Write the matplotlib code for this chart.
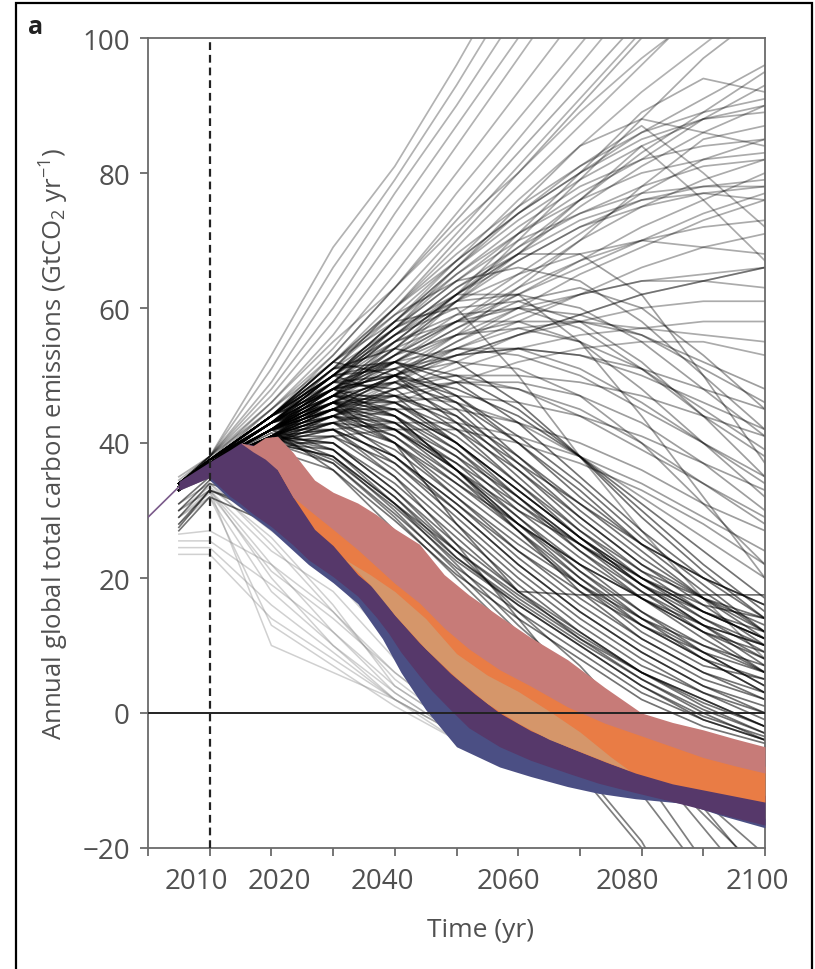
import matplotlib
matplotlib.use("Agg")
import matplotlib.pyplot as plt
import matplotlib.transforms as mtransforms
from matplotlib.patches import Rectangle
import numpy as np

plt.rcParams['font.family'] = ['Open Sans', 'DejaVu Sans']
plt.rcParams['mathtext.fontset'] = 'custom'
plt.rcParams['mathtext.rm'] = 'Open Sans'
plt.rcParams['mathtext.it'] = 'Open Sans:italic'
plt.rcParams['mathtext.bf'] = 'Open Sans:bold'

# ---------------- data ----------------
YEARS = [2005, 2010, 2020, 2030, 2040, 2050, 2060, 2070, 2080, 2090, 2100]

# steep rising scenarios (leave the top of the plot)
steep_lines = [
    [34, 38, 53, 69, 81, 96, 112, 128, 144, 160, 176],
    [34, 38, 51, 66, 79, 93, 108, 123, 138, 153, 168],
    [34.5, 38, 49, 63, 77, 90, 104, 118, 132, 146, 160],
    [34, 38, 48, 60, 74, 87, 100, 113, 126, 139, 152],
    [35, 38, 47, 58, 71, 84, 97, 110, 123, 136, 149],
    [34, 37.5, 46, 56, 68, 80, 92, 104, 116, 128, 140],
    [34, 37.5, 45, 54, 65, 77, 88, 99, 110, 121, 132],
    [33.5, 37, 45, 53, 63, 74, 85, 96, 107, 118, 129],
    [34, 37.5, 44, 52, 61, 71, 81, 91, 101, 111, 121],
    [33, 37, 44, 51, 60, 69, 78, 87, 96, 105, 114],
    [34, 38, 46, 55, 63, 72, 80, 89, 97, 104, 110],
    [34, 37, 43, 50, 58, 67, 76, 84, 92, 99, 106],
]

# high scenarios ending between ~50 and ~100
high_lines = [
    [34, 38, 45, 52, 60, 67, 74, 80, 86, 91, 96],
    [34, 37.5, 44, 50, 57, 64, 71, 77, 82, 88, 93],
    [34, 37, 43, 49, 56, 62, 68, 75, 81, 86, 90],
    [33.5, 37, 42, 48, 54, 61, 68, 76, 84, 76, 67],
    [34, 37.5, 43, 50, 58, 66, 74, 81, 87, 80, 72],
    [33, 36.5, 42, 47, 53, 59, 65, 71, 77, 82, 85],
    [34, 37, 42, 48, 53, 58, 64, 70, 75, 79, 82],
    [33, 37, 41, 46, 52, 57, 62, 67, 72, 76, 80],
    [34, 37, 42, 47, 55, 62, 67, 72, 75, 77, 78],
    [33.5, 37, 41, 45, 50, 55, 60, 65, 69, 73, 76],
    [34, 37, 41, 47, 52, 58, 63, 67, 70, 72, 73],
    [33, 36.5, 40, 44, 49, 54, 58, 62, 66, 69, 71],
    [34, 37.5, 43, 50, 56, 61, 65, 68, 70, 69, 68],
    [33, 36.5, 40, 44, 48, 52, 56, 59, 62, 64, 66],
    [34, 37, 42, 47, 51, 56, 60, 62, 64, 64, 63],
    [33.5, 37, 41, 45, 49, 53, 56, 58, 60, 61, 61],
    [33, 36, 40, 44, 48, 51, 54, 56, 57, 58, 58],
    [34, 37, 41, 46, 50, 54, 57, 58, 57, 56, 55],
    [33, 36.5, 40, 43, 46, 49, 52, 54, 55, 55, 53],
    [34, 37, 42, 48, 55, 62, 69, 76, 83, 89, 95],
    [33.5, 37, 41, 46, 53, 61, 70, 79, 88, 97, 104],
    [34, 37.5, 43, 51, 60, 70, 80, 90, 100, 110, 120],
    [34, 37.5, 44, 53, 63, 73, 83, 93, 103, 113, 123],
    [33, 36.5, 41, 47, 54, 62, 71, 80, 89, 94, 92],
    [34, 37, 42, 49, 57, 66, 75, 84, 88, 86, 84],
    [33.5, 37, 41, 45, 50, 56, 63, 70, 78, 85, 87],
    [34, 37, 43, 50, 58, 66, 73, 79, 84, 88, 89],
    [34, 37.5, 43, 48, 53, 58, 62, 66, 70, 74, 77],
    [33, 36, 40, 45, 50, 55, 59, 62, 64, 65, 66],
    [34, 37, 42, 46, 50, 53, 56, 59, 62, 64, 66],
    [34, 37.5, 44, 52, 60, 68, 75, 81, 86, 89, 91],
    [33.5, 37, 42, 49, 57, 65, 72, 78, 82, 84, 85],
    [34, 37, 43, 50, 58, 65, 71, 76, 80, 82, 83],
    [33, 36.5, 41, 47, 54, 61, 67, 72, 76, 78, 79],
    [34, 37.5, 43, 50, 57, 64, 70, 74, 77, 78, 78],
    [33.5, 37, 42, 48, 55, 62, 68, 73, 76, 77, 76],
    [34, 37, 43, 51, 59, 67, 74, 80, 85, 88, 90],
    [33, 36.5, 42, 49, 56, 63, 69, 74, 78, 81, 82],
]

# middle scenarios ending ~20-50
mid_lines = [
    [34, 37, 42, 47, 51, 53, 54, 53, 51, 48, 45],
    [33, 36.5, 41, 45, 48, 50, 50, 49, 47, 44, 41],
    [34, 37, 43, 48, 52, 54, 53, 50, 45, 40, 35],
    [33.5, 37, 41, 44, 46, 47, 46, 44, 41, 37, 33],
    [34, 37, 42, 46, 49, 50, 48, 44, 39, 34, 29],
    [33, 36, 40, 43, 45, 45, 43, 40, 36, 31, 27],
    [34, 37.5, 44, 50, 55, 58, 58, 55, 48, 40, 32],
    [33.5, 36.5, 40, 42, 43, 43, 41, 38, 34, 29, 24],
    [34, 37, 43, 49, 55, 59, 60, 57, 51, 44, 38],
    [33, 36, 39, 41, 42, 42, 40, 37, 33, 28, 22],
    [34, 37, 42, 47, 52, 57, 61, 63, 60, 53, 45],
    [34, 37.5, 43, 48, 52, 56, 58, 58, 56, 52, 48],
    [33.5, 37, 41, 44, 47, 49, 49, 47, 43, 37, 30],
    [34, 37, 42, 45, 47, 46, 43, 38, 32, 26, 20],
    [33, 36.5, 41, 46, 50, 52, 51, 47, 40, 31, 22],
    [34, 37.5, 44, 52, 58, 60, 50, 38, 27, 17, 8],
    [34, 37, 43, 50, 57, 62, 62, 55, 44, 32, 20],
    [33, 37, 42, 49, 56, 63, 68, 68, 62, 50, 37],
    [34, 37.5, 44, 51, 57, 61, 62, 60, 55, 48, 41],
    [33.5, 37, 42, 48, 54, 58, 60, 59, 56, 51, 46],
    [34, 37, 43, 50, 56, 60, 61, 58, 52, 44, 35],
    [33, 36.5, 41, 46, 50, 53, 54, 53, 50, 46, 42],
    [34, 37.5, 44, 52, 59, 64, 66, 64, 58, 50, 42],
    [33.5, 37, 42, 48, 53, 56, 57, 55, 51, 45, 39],
    [34, 37, 42, 47, 51, 54, 54, 51, 46, 40, 34],
    [33, 36.5, 41, 45, 48, 49, 48, 45, 40, 34, 28],
]

# declining scenarios (dense bundle ending near zero)
decline_lines = [
    [34, 37.5, 43, 45, 40, 32, 25, 19, 14, 10, 7],
    [33, 36.5, 41, 42, 36, 28, 20, 13, 7, 3, 0],
    [34, 37, 42, 44, 38, 30, 22, 15, 9, 4, 1],
    [33.5, 37, 41, 40, 33, 25, 18, 12, 6, 1, -3],
    [34, 37.5, 44, 48, 44, 36, 28, 21, 15, 10, 6],
    [33, 36, 40, 39, 32, 23, 16, 10, 4, -1, -4],
    [34, 37, 43, 46, 42, 35, 28, 22, 17, 13, 10],
    [33.5, 37, 42, 43, 37, 29, 21, 14, 8, 3, -1],
    [34, 37.5, 44, 50, 47, 40, 32, 25, 19, 15, 12],
    [33, 36.5, 41, 41, 35, 27, 19, 12, 6, 2, -2],
    [34, 37, 42, 45, 41, 34, 27, 20, 14, 9, 4],
    [33.5, 36.5, 40, 38, 31, 24, 17, 11, 6, 2, -2],
    [34, 37, 43, 47, 46, 41, 34, 27, 21, 17, 14],
    [33, 36.5, 41, 43, 39, 32, 24, 17, 11, 6, 2],
    [34, 37.5, 44, 49, 50, 45, 37, 29, 22, 17, 13],
    [33.5, 37, 42, 44, 40, 34, 28, 22, 17, 12, 8],
    [34, 37, 42, 46, 44, 38, 30, 23, 17, 12, 9],
    [33, 36, 40, 40, 34, 26, 18, 11, 5, 0, -4],
    [34, 37.5, 43, 47, 45, 39, 31, 24, 18, 13, 10],
    [33.5, 37, 41, 42, 38, 31, 23, 16, 10, 5, 2],
    [34, 37, 43, 48, 49, 44, 36, 28, 21, 15, 11],
    [33, 36.5, 40, 41, 37, 30, 22, 15, 9, 4, 0],
    [34, 37.5, 44, 51, 52, 47, 40, 32, 25, 20, 16],
    [33.5, 37, 42, 45, 43, 37, 29, 21, 14, 8, 3],
    [34, 37, 42, 46, 40, 28, 18, 17.5, 17.5, 17.5, 17.5],
    [34, 37.5, 43, 46, 43, 36, 27, 18, 11, 6, 3],
    [33, 36.5, 41, 44, 41, 35, 27, 19, 12, 7, 5],
    [34, 37, 42, 45, 42, 36, 30, 25, 20, 16, 14],
    [33.5, 37, 43, 47, 44, 36, 28, 20, 13, 8, 5],
    [34, 37.5, 44, 48, 46, 40, 33, 26, 20, 15, 11],
    [34, 37.5, 44, 52, 50, 43, 35, 27, 20, 14, 9],
    [33.5, 37, 43, 49, 48, 42, 34, 26, 19, 13, 8],
    [34, 37, 42, 47, 47, 43, 37, 31, 25, 20, 16],
    [33, 36.5, 41, 45, 45, 40, 33, 26, 19, 13, 7],
    [34, 37.5, 44, 50, 52, 49, 43, 35, 27, 20, 14],
    [33.5, 37, 42, 46, 47, 44, 38, 31, 24, 17, 11],
    [34, 37, 43, 48, 50, 47, 41, 34, 26, 19, 12],
    [33, 36.5, 40, 43, 42, 37, 31, 25, 19, 14, 10],
    [34, 37.5, 44, 51, 54, 52, 46, 38, 29, 21, 14],
    [33.5, 37, 42, 47, 49, 46, 40, 33, 25, 18, 12],
    [34, 37, 42, 46, 46, 42, 36, 29, 22, 16, 10],
    [33, 36.5, 41, 44, 43, 38, 32, 25, 18, 12, 6],
    [34, 37.5, 43, 48, 50, 48, 44, 38, 31, 24, 17],
    [33.5, 37, 42, 45, 44, 39, 32, 24, 17, 11, 6],
    [34, 37, 43, 49, 52, 50, 45, 38, 30, 22, 15],
    [33, 36.5, 41, 44, 42, 36, 29, 22, 15, 9, 4],
    [34, 37.5, 44, 50, 51, 46, 38, 30, 23, 17, 12],
    [33.5, 37, 42, 46, 45, 40, 33, 26, 20, 15, 11],
    [34, 37, 41, 43, 40, 33, 26, 19, 13, 8, 3],
    [33, 36.5, 40, 42, 38, 31, 24, 18, 13, 9, 6],
    [33, 36.5, 41, 37, 29.5, 21.5, 15, 9, 3, -1, -4],
    [34, 37, 42, 36, 28.5, 20.5, 14, 8, 2, -2, -4.5],
    [33.5, 37, 41.5, 38, 31, 23, 16.5, 10.5, 5, 0.5, -3],
    [34, 37.5, 42, 39, 32, 24, 17.5, 11.5, 6, 1.5, -2],
    [33, 36.5, 41, 37.5, 30.5, 22.5, 16, 10, 4, -0.5, -3.5],
]

# scenarios reaching strongly negative emissions late in the century
negative_lines = [
    [34, 37, 41, 40, 33, 24, 15, 7, -3, -14, -25],
    [33, 36.5, 40, 38, 30, 21, 12, 4, -6, -17, -28],
    [34, 37, 42, 42, 35, 25, 14, 3, -9, -22, -35],
    [33.5, 36.5, 39, 36, 27, 17, 7, -2, -12, -24, -36],
    [34, 37, 30, 22, 12, 2, -4, -8, -19, -35, -50],
    [33, 35, 29, 21, 11, 1, -5, -9, -20, -36, -52],
    [34, 37, 41, 39, 31, 22, 13, 5, -4, -13, -21],
    [33.5, 37, 40, 37, 29, 20, 11, 3, -6, -15, -24],
]

# lower starting scenarios (dark, under the coloured bands)
low_start_lines = [
    [28, 33, 30, 24, 16, 8, 2, -3, -7, -10, -13],
    [27, 32, 28, 21, 13, 5, -1, -5, -9, -12, -14],
    [29, 34, 31, 25, 17, 9, 3, -2, -6, -9, -12],
    [30, 34.5, 32, 27, 20, 12, 5, 0, -4, -8, -11],
    [27.5, 33, 29, 22, 14, 6, 0, -4, -8, -11, -14],
    [31, 35, 33, 28, 21, 14, 8, 3, -2, -6, -10],
]

# early, rapidly dropping scenarios (light grey)
early_drop_lines = [
    [30, 33, 22, 12, 3, -3, -7, -9, -11, -13, -15],
    [29, 33, 20, 10, 2, -4, -7, -10, -12, -14, -15],
    [31, 34, 25, 15, 5, -2, -6, -9, -11, -13, -15],
    [28, 32, 18, 10, 3, -3, -7, -10, -12, -14, -15],
    [30, 33, 24, 18, 8, 0, -5, -9, -11, -13, -15],
    [29, 32.5, 21, 14, 6, -1, -6, -9, -11, -13, -15],
    [25.5, 25.5, 19, 12, 4, -2, -6, -9, -11, -13, -15],
    [24.5, 24.5, 16, 9, 2, -3, -7, -10, -12, -14, -15],
    [26.5, 27, 22, 15, 6, -1, -6, -9, -11, -13, -15],
    [31, 34, 27, 20, 10, 1, -5, -9, -11, -13, -15],
    [30, 33.5, 26, 16, 4, -2, -6, -9, -11, -13, -15],
    [23.5, 23.5, 14, 8, 2, -3, -7, -10, -12, -14, -15],
    [30, 33, 10, 6, 2, -3, -7, -10, -12, -14, -15],
    [29, 32, 13, 7, 1, -4, -8, -10, -12, -14, -15],
]

# historical purple line
HIST_YEARS = [2000, 2005]
HIST_VALUES = [29, 33.5]

# coloured scenario bands
BLUE_YEARS = [2010, 2013.3, 2020, 2026, 2030, 2034, 2038, 2041, 2045, 2050, 2057, 2062, 2068, 2073, 2079, 2087, 2093, 2100]
BLUE_LOW = [34.5, 31.6, 27.0, 22.0, 19.3, 16.2, 11.0, 6.0, 0.5, -5, -8, -9.4, -10.9, -11.9, -12.7, -13.4, -15.2, -17]
BLUE_HIGH = [35.5, 33, 28.6, 23.7, 21.2, 18.3, 14.0, 10.5, 6.0, 1.5, -4, -6, -7.9, -9.4, -10.8, -12.2, -13.6, -15.6]

PURPLE_YEARS = [2005, 2010, 2013.3, 2015, 2017, 2020, 2023.5, 2026, 2030, 2034, 2037, 2039, 2041, 2044, 2046, 2049, 2052, 2057, 2062, 2068, 2073, 2079, 2084, 2090, 2095, 2100]
PURPLE_LOW = [33, 34.9, 32.1, 31, 29.5, 27.6, 24.9, 22.7, 20.2, 17.3, 14.2, 11.8, 9.0, 5.5, 3.3, 0.5, -2.2, -5, -7, -8.9, -10.4, -11.8, -12.9, -14.3, -15.5, -16.6]
PURPLE_HIGH = [34.3, 37.2, 39, 40, 39.7, 38.6, 33, 29.5, 25.8, 21.5, 19.2, 16.5, 14.0, 11.4, 9.8, 7.2, 4.9, 1.0, -1.6, -4.0, -5.9, -7.9, -9.3, -10.4, -11.3, -12.2]

ORANGE_YEARS = [2021, 2023.5, 2027, 2030, 2034, 2037, 2040, 2044, 2049, 2053, 2057, 2062, 2068, 2074, 2079, 2085, 2090, 2095, 2100]
ORANGE_LOW = [36, 32, 27.2, 24.8, 20.5, 18.2, 14.5, 10.4, 5.9, 2.8, 0, -2.6, -5, -7.2, -8.9, -10.5, -11.4, -12.3, -13.2]
ORANGE_HIGH = [37, 33.5, 30.4, 28.2, 25.2, 22.7, 20.2, 17.3, 13.5, 10.5, 7.4, 5.0, 1.9, -0.5, -2.4, -4.0, -5.6, -6.8, -7.9]

TAN_YEARS = [2032, 2036, 2040, 2045, 2050, 2055, 2060, 2065, 2070, 2075, 2078]
TAN_LOW = [22.7, 19, 14.5, 9.5, 5.2, 1.4, -1.5, -3.9, -5.7, -7.5, -8.5]
TAN_HIGH = [22.7, 20.5, 18.0, 14.0, 8.8, 5.6, 3.2, 0.3, -2.8, -6.5, -8.5]

PINK_YEARS = [2015, 2017, 2019, 2021, 2023.5, 2027, 2030, 2034, 2037, 2040, 2044, 2048, 2052, 2057, 2062, 2068, 2074, 2080, 2085, 2090, 2095, 2100]
PINK_HIGH = [40, 39.6, 40.8, 41, 38.6, 34.5, 32.7, 31.1, 29.4, 27.3, 25.0, 20.5, 17.5, 14.3, 11.2, 7.9, 3.8, 0, -1.4, -2.5, -3.8, -5]
PINK_LOW = [40, 38.7, 37.6, 36, 32, 29.4, 27.2, 24.2, 21.7, 19.2, 16.3, 12.6, 9.5, 6.4, 4.0, 0.9, -1.5, -3.4, -5.0, -6.6, -7.8, -8.9]

X_TICKS = [2000, 2010, 2020, 2030, 2040, 2050, 2060, 2070, 2080, 2090, 2100]
X_TICK_LABELS = ['', '2010', '2020', '', '2040', '', '2060', '', '2080', '', '2100']
Y_TICKS = [-20, 0, 20, 40, 60, 80, 100]

# ---------------- figure ----------------
W, H = 815, 970
fig = plt.figure(figsize=(W / 100, H / 100), dpi=100)
ax = fig.add_axes([148 / W, 1 - 849 / H, (765 - 148) / W, (849 - 39) / H])

grey_txt = '#505050'
spine_c = '#6a6a6a'

for ln in early_drop_lines:
    ax.plot(YEARS, ln, color='#8a8a8a', alpha=0.4, lw=1.1, zorder=1)
for ln in low_start_lines:
    ax.plot(YEARS, ln, color='black', alpha=0.55, lw=1.2, zorder=1.2)
for group, a in ((steep_lines, 0.3), (high_lines, 0.33), (mid_lines, 0.38),
                 (decline_lines, 0.55), (negative_lines, 0.5)):
    for ln in group:
        ax.plot(YEARS, ln, color='black', alpha=a, lw=1.25, zorder=1.5)

ax.plot(HIST_YEARS, HIST_VALUES, color='#7a5a8a', lw=1.2, zorder=3)

ax.fill_between(BLUE_YEARS, BLUE_LOW, BLUE_HIGH, color='#4b4f84', lw=0, zorder=3)
ax.fill_between(PURPLE_YEARS, PURPLE_LOW, PURPLE_HIGH, color='#56386a', lw=0, zorder=3.1)
ax.fill_between(ORANGE_YEARS, ORANGE_LOW, ORANGE_HIGH, color='#e97c45', lw=0, zorder=3.2)
ax.fill_between(TAN_YEARS, TAN_LOW, TAN_HIGH, color='#d5966a', lw=0, zorder=3.3)
ax.fill_between(PINK_YEARS, PINK_LOW, PINK_HIGH, color='#c77b78', lw=0, zorder=3.4)

ax.axhline(0, color='#222222', lw=1.4, zorder=4)
ax.axvline(2010, color='#222222', lw=1.6, ls=(0, (3.5, 2.2)), zorder=4)

ax.set_xlim(2000, 2100)
ax.set_ylim(-20, 100)
ax.set_xticks(X_TICKS)
ax.set_xticklabels(X_TICK_LABELS)
ax.set_yticks(Y_TICKS)
ax.set_yticklabels(['\u221220', '0', '20', '40', '60', '80', '100'])

for s in ax.spines.values():
    s.set_color(spine_c)
    s.set_linewidth(1.3)
ax.tick_params(axis='both', direction='out', length=6, width=1.3, color=spine_c,
               labelcolor=grey_txt, labelsize=20)
ax.tick_params(axis='y', pad=7)
ax.tick_params(axis='x', pad=8)

# nudge x tick labels as in the original layout
offsets_px = {'2010': -13, '2020': 8, '2040': -12, '2060': -10, '2080': -14, '2100': -8}
for lab in ax.get_xticklabels():
    dx = offsets_px.get(lab.get_text(), 0)
    if dx:
        lab.set_transform(lab.get_transform() +
                          mtransforms.ScaledTranslation(dx / 100, 0, fig.dpi_scale_trans))

ax.set_xlabel('Time (yr)', fontsize=19, color=grey_txt)
ax.xaxis.set_label_coords((481 - 148) / (765 - 148), -0.085)
ax.set_ylabel('Annual global total carbon emissions (GtCO$_2$ yr$^{-1}$)',
              fontsize=18.5, color=grey_txt, labelpad=8)

fig.text(28 / W, 1 - 34 / H, 'a', fontsize=18, fontweight='bold', color='#222222')

frame = Rectangle((16 / W, -0.05), (812 - 16) / W, 1.05 - 4 / H, transform=fig.transFigure,
                  fill=False, edgecolor='black', lw=1.6, zorder=10)
fig.patches.append(frame)

fig.savefig('out.png', dpi=100)
